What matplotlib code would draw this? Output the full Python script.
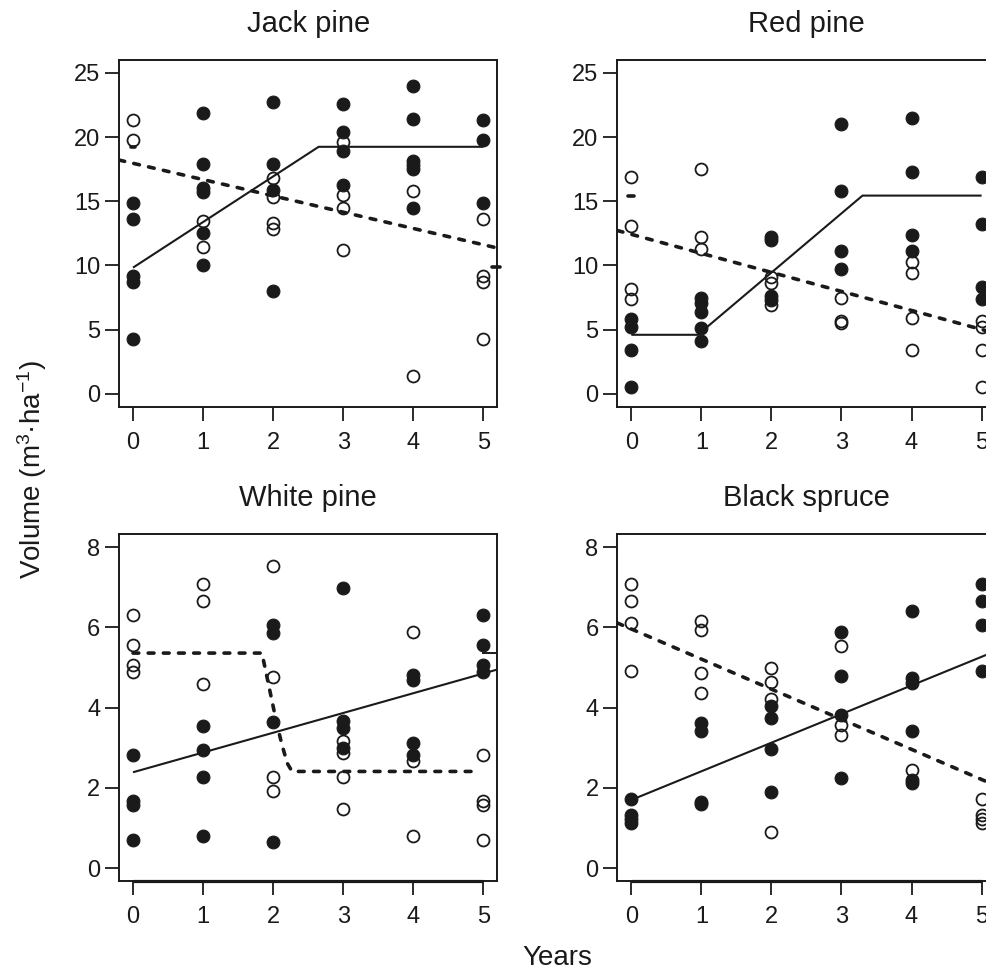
import matplotlib
matplotlib.use("Agg")
import matplotlib.pyplot as plt

plt.rcParams['font.family'] = ['Liberation Sans', 'DejaVu Sans']
plt.rcParams['mathtext.fontset'] = 'custom'
plt.rcParams['mathtext.rm'] = 'Liberation Sans'
plt.rcParams['mathtext.it'] = 'Liberation Sans:italic'
plt.rcParams['mathtext.default'] = 'regular'

years = [0, 1, 2, 3, 4, 5]

# ---------------- data (values per year) ----------------
jack_open = [[21.3, 19.8], [13.5, 11.4], [16.8, 15.3, 13.3, 12.8],
             [19.6, 15.5, 14.5, 11.2], [15.8, 1.4], [13.6, 9.2, 8.7, 4.3]]
jack_filled = [[14.9, 13.6, 9.2, 8.7, 4.3], [21.9, 17.9, 16.0, 15.7, 12.5, 10.0],
               [22.7, 17.9, 15.9, 8.0], [22.6, 20.4, 18.9, 16.3],
               [24.0, 21.4, 18.1, 17.8, 17.5, 14.5], [21.3, 19.8, 14.9]]
jack_solid_x = [0, 2.65, 5]
jack_solid_y = [9.83, 19.24, 19.24]
jack_dash_x = [-0.2, 5.2]
jack_dash_y = [18.21, 11.36]
jack_ends = [(-0.03, 0.03, 19.26), (5.13, 5.24, 9.88)]

red_open = [[16.9, 13.1, 8.2, 7.4], [17.5, 12.2, 11.3], [9.1, 8.6, 6.9],
            [7.5, 5.65, 5.55], [10.3, 9.4, 5.9, 3.4], [5.7, 5.2, 3.4, 0.5]]
red_filled = [[5.8, 5.2, 3.4, 0.5], [7.5, 7.1, 6.4, 5.1, 4.1], [12.2, 12.0, 7.6, 7.3],
              [21.0, 15.8, 11.1, 9.7], [21.5, 17.3, 12.4, 11.1], [16.9, 13.2, 8.3, 7.4]]
red_solid_x = [0, 0.95, 3.3, 5]
red_solid_y = [4.6, 4.6, 15.44, 15.44]
red_dash_x = [-0.2, 5.2]
red_dash_y = [12.72, 4.72]
red_ends = [(-0.05, 0.04, 15.44), (5.13, 5.24, 4.6)]

white_open = [[6.32, 5.57, 5.07, 4.88], [7.07, 6.67, 4.6], [7.54, 4.76, 2.26, 1.93],
              [3.17, 2.87, 2.28, 1.47], [5.88, 2.68, 0.79], [2.81, 1.68, 1.58, 0.69]]
white_filled = [[2.81, 1.68, 1.58, 0.69], [3.55, 2.95, 2.26, 0.81], [6.07, 5.86, 3.64, 0.64],
                [6.98, 3.66, 3.49, 2.99], [4.82, 4.68, 3.12, 2.83], [6.32, 5.57, 5.07, 4.88]]
white_solid_x = [0, 5.2]
white_solid_y = [2.39, 4.95]
white_dash_x = [0, 1.84, 1.89, 1.98, 2.05, 2.12, 2.2, 2.27, 4.92]
white_dash_y = [5.36, 5.36, 4.95, 4.2, 3.62, 3.12, 2.62, 2.41, 2.41]
white_tail_x = [5.0, 5.2]
white_tail_y = [5.37, 5.37]

black_open = [[7.07, 6.65, 6.11, 4.92], [6.17, 5.94, 4.86, 4.36], [4.99, 4.65, 4.21, 0.91],
              [5.53, 3.57, 3.32], [2.45], [1.73, 1.33, 1.22, 1.12]]
black_filled = [[1.73, 1.33, 1.22, 1.12], [3.62, 3.43, 1.66, 1.6], [4.03, 3.74, 2.97, 1.9],
                [5.88, 4.8, 3.81, 2.24], [6.4, 4.74, 4.61, 3.41, 2.2, 2.12], [7.07, 6.65, 6.07, 4.92]]
black_solid_x = [0, 5.2]
black_solid_y = [1.7, 5.41]
black_dash_x = [-0.2, 5.2]
black_dash_y = [6.11, 2.06]

titles = ["Jack pine", "Red pine", "White pine", "Black spruce"]
top_yticks = [0, 5, 10, 15, 20, 25]
bot_yticks = [0, 2, 4, 6, 8]

# ---------------- figure ----------------
W, H = 987, 971
fig = plt.figure(figsize=(W / 100, H / 100), dpi=100)

def frac_rect(l, t, r, b):
    return [l / W, 1 - b / H, (r - l) / W, (b - t) / H]

rects = [frac_rect(119, 60, 497.3, 406.7), frac_rect(617.3, 60, 995.6, 406.7),
         frac_rect(119, 534.3, 497.3, 881), frac_rect(617.3, 534.3, 995.6, 881)]

def flat(groups):
    xs, ys = [], []
    for yr, vals in zip(years, groups):
        for v in vals:
            xs.append(yr)
            ys.append(v)
    return xs, ys

def draw_panel(ax, title, opn, fil, solid, dash, yticks, ylim, bottom_axis=False):
    ax.set_xlim(-0.2, 5.2)
    ax.set_ylim(*ylim)
    ox, oy = flat(opn)
    fx, fy = flat(fil)
    ax.plot(solid[0], solid[1], color='#1a1a1a', lw=1.5, solid_capstyle='butt', zorder=2)
    ax.plot(dash[0], dash[1], color='#1a1a1a', lw=2.6, linestyle=(0, (1.6, 2.6)),
            dash_capstyle='round', zorder=2)
    ax.plot(fx, fy, 'o', ms=9.2, mfc='#1a1a1a', mec='#1a1a1a', mew=0.8, zorder=3, clip_on=False)
    ax.plot(ox, oy, 'o', ms=8.6, mfc='none', mec='#1a1a1a', mew=1.3, zorder=4, clip_on=False)
    ax.set_xticks(years)
    ax.set_yticks(yticks)
    ax.tick_params(direction='out', length=10, width=1.3, color='#1a1a1a',
                   labelsize=17, labelcolor='#1a1a1a')
    ax.tick_params(axis='x', pad=8)
    ax.tick_params(axis='y', pad=3.5)
    for s in ax.spines.values():
        s.set_linewidth(1.4)
        s.set_color('#1a1a1a')
    ax.text(0.5, 1 + 28.5 / 346.7, title, transform=ax.transAxes, ha='center',
            va='baseline', fontsize=21, color='#1a1a1a')
    if bottom_axis:
        ax.plot([0, 5], [ylim[0], ylim[0]], color='#1a1a1a', lw=2.3, clip_on=False,
                solid_capstyle='butt', zorder=5)

axes = [fig.add_axes(r) for r in rects]

draw_panel(axes[0], titles[0], jack_open, jack_filled, (jack_solid_x, jack_solid_y),
           (jack_dash_x, jack_dash_y), top_yticks, (-1, 26))
for x0, x1, v in jack_ends:
    axes[0].plot([x0, x1], [v, v], color='#1a1a1a', lw=2.6, solid_capstyle='round', clip_on=False)

draw_panel(axes[1], titles[1], red_open, red_filled, (red_solid_x, red_solid_y),
           (red_dash_x, red_dash_y), top_yticks, (-1, 26))
for x0, x1, v in red_ends:
    axes[1].plot([x0, x1], [v, v], color='#1a1a1a', lw=2.6, solid_capstyle='round', clip_on=False)

draw_panel(axes[2], titles[2], white_open, white_filled, (white_solid_x, white_solid_y),
           (white_dash_x, white_dash_y), bot_yticks, (-0.32, 8.32), bottom_axis=True)
axes[2].plot(white_tail_x, white_tail_y, color='#1a1a1a', lw=1.4)

draw_panel(axes[3], titles[3], black_open, black_filled, (black_solid_x, black_solid_y),
           (black_dash_x, black_dash_y), bot_yticks, (-0.32, 8.32), bottom_axis=True)

fig.text(557 / W, 1 - 965 / H, "Years", ha='center', va='baseline', fontsize=20, color='#1a1a1a')
fig.text(32 / W, 1 - 470 / H, "Volume (m$^{3}$·ha$^{-1}$)", ha='center', va='center',
         rotation=90, fontsize=20, color='#1a1a1a')

fig.savefig("out.png", dpi=100, facecolor='white')
